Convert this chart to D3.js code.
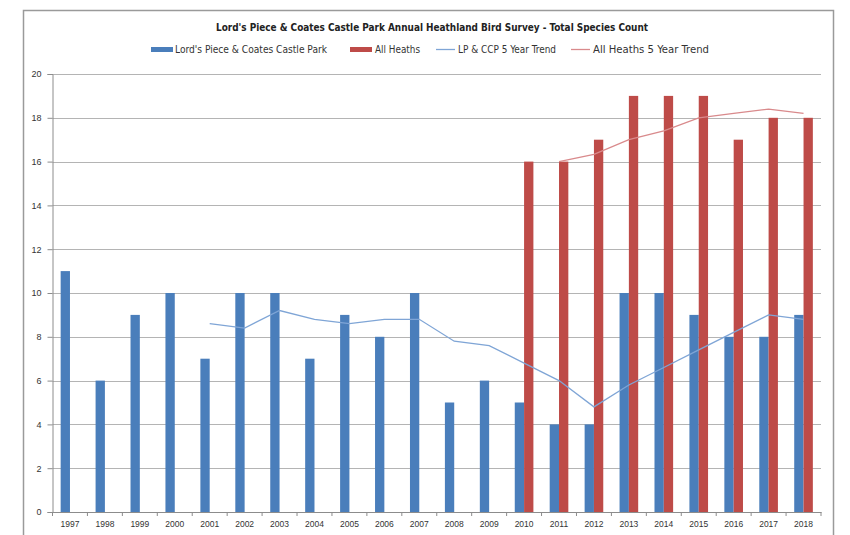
<!DOCTYPE html>
<html>
<head>
<meta charset="utf-8">
<script src="https://cdn.jsdelivr.net/npm/d3@7"></script>
<style>
  html, body { margin: 0; padding: 0; background: #fff; }
  svg { display: block; font-family: "Liberation Sans Narrow", "DejaVu Sans Condensed", "Liberation Sans", sans-serif; }
</style>
</head>
<body>
<svg id="chart" width="850" height="535"></svg>
<script>
// Survey years
const years = ["1997","1998","1999","2000","2001","2002","2003","2004","2005","2006","2007",
               "2008","2009","2010","2011","2012","2013","2014","2015","2016","2017","2018"];

// Total species count, Lord's Piece & Coates Castle Park
const lpccp = [11, 6, 9, 10, 7, 10, 10, 7, 9, 8, 10, 5, 6, 5, 4, 4, 10, 10, 9, 8, 8, 9];

// Total species count, all heaths (surveyed from 2010)
const heathYears = ["2010","2011","2012","2013","2014","2015","2016","2017","2018"];
const allHeaths = [16, 16, 17, 19, 19, 19, 17, 18, 18];

// 5 year trend lines
const lpccpTrendYears = ["2001","2002","2003","2004","2005","2006","2007","2008","2009",
                         "2010","2011","2012","2013","2014","2015","2016","2017","2018"];
const lpccpTrend = [8.6, 8.4, 9.2, 8.8, 8.6, 8.8, 8.8, 7.8, 7.6, 6.8, 6.0, 4.8, 5.8, 6.6, 7.4, 8.2, 9.0, 8.8];
const heathTrendYears = ["2011","2012","2013","2014","2015","2016","2017","2018"];
const heathTrend = [16.0, 16.33, 17.0, 17.4, 18.0, 18.2, 18.4, 18.2];

const yTicks = [0, 2, 4, 6, 8, 10, 12, 14, 16, 18, 20];

const titleText = "Lord's Piece & Coates Castle Park Annual Heathland Bird Survey - Total Species Count";
const seriesNames = ["Lord's Piece & Coates Castle Park", "All Heaths", "LP & CCP 5 Year Trend", "All Heaths 5 Year Trend"];

const BLUE = "#4a7ebb", RED = "#be4b48", BLUE_LINE = "#7fa5d6", RED_LINE = "#d98a8c";

const svg = d3.select("#chart");
const plot = { left: 52.5, right: 821, top: 74, bottom: 512 };

// Chart frame
svg.append("rect")
  .attr("x", 23.5).attr("y", 10.5).attr("width", 810).attr("height", 530)
  .attr("fill", "#fff").attr("stroke", "#9a9a9a").attr("stroke-width", 1.5);

const x = d3.scaleBand().domain(years).range([plot.left, plot.right]).paddingInner(0).paddingOuter(0);
const y = d3.scaleLinear().domain([0, 20]).range([plot.bottom, plot.top]);
const barW = x.bandwidth() / 3.75;

// Horizontal gridlines
svg.append("g").selectAll("line").data(yTicks.filter(d => d > 0)).join("line")
  .attr("x1", plot.left).attr("x2", plot.right)
  .attr("y1", d => Math.round(y(d)) + 0.5).attr("y2", d => Math.round(y(d)) + 0.5)
  .attr("stroke", "#b4b4b4").attr("stroke-width", 1);

// Y axis
const yAxis = svg.append("g")
  .attr("transform", `translate(${plot.left},0)`)
  .call(d3.axisLeft(y).tickValues(yTicks).tickSize(5).tickPadding(6).tickFormat(d3.format("d")));
yAxis.select(".domain").attr("stroke", "#8c8c8c");
yAxis.selectAll(".tick line").attr("stroke", "#8c8c8c");
yAxis.selectAll("text").attr("fill", "#333").style("font-size", "9px");

// X axis with tick marks between categories
const xAxis = svg.append("g")
  .attr("transform", `translate(0,${plot.bottom})`)
  .call(d3.axisBottom(x).tickSize(0).tickPadding(9));
xAxis.select(".domain").attr("stroke", "#8c8c8c");
xAxis.selectAll("text").attr("fill", "#333").style("font-size", "8.5px");
xAxis.append("g").selectAll("line").data(years.concat(["end"])).join("line")
  .attr("x1", (d, i) => plot.left + i * x.step()).attr("x2", (d, i) => plot.left + i * x.step())
  .attr("y1", 0).attr("y2", 4).attr("stroke", "#8c8c8c");

// Bars
svg.append("g").selectAll("rect").data(years.map((yr, i) => ({ yr, v: lpccp[i] }))).join("rect")
  .attr("x", d => x(d.yr) + x.bandwidth() / 2 - barW)
  .attr("width", barW)
  .attr("y", d => y(d.v)).attr("height", d => y(0) - y(d.v))
  .attr("fill", BLUE);

svg.append("g").selectAll("rect").data(heathYears.map((yr, i) => ({ yr, v: allHeaths[i] }))).join("rect")
  .attr("x", d => x(d.yr) + x.bandwidth() / 2)
  .attr("width", barW)
  .attr("y", d => y(d.v)).attr("height", d => y(0) - y(d.v))
  .attr("fill", RED);

// Trend lines
const line = d3.line().x(d => x(d.yr) + x.bandwidth() / 2).y(d => y(d.v));
svg.append("path")
  .datum(lpccpTrendYears.map((yr, i) => ({ yr, v: lpccpTrend[i] })))
  .attr("d", line).attr("fill", "none").attr("stroke", BLUE_LINE).attr("stroke-width", 1.3);
svg.append("path")
  .datum(heathTrendYears.map((yr, i) => ({ yr, v: heathTrend[i] })))
  .attr("d", line).attr("fill", "none").attr("stroke", RED_LINE).attr("stroke-width", 1.3);

// Title
svg.append("text")
  .attr("x", 432).attr("y", 31).attr("text-anchor", "middle")
  .attr("fill", "#222").style("font-size", "11px").style("font-weight", "bold")
  .attr("textLength", 432).attr("lengthAdjust", "spacingAndGlyphs")
  .text(titleText);

// Legend
const legendItems = [
  { kind: "rect", color: BLUE, sx: 151, sw: 22, tx: 175, tw: 152 },
  { kind: "rect", color: RED, sx: 350, sw: 22, tx: 375, tw: 45 },
  { kind: "line", color: BLUE_LINE, sx: 436, sw: 19, tx: 458, tw: 98 },
  { kind: "line", color: RED_LINE, sx: 571, sw: 19, tx: 593, tw: 116 }
];
const lg = svg.append("g");
legendItems.forEach((it, i) => {
  if (it.kind === "rect") {
    lg.append("rect").attr("x", it.sx).attr("y", 47).attr("width", it.sw).attr("height", 5).attr("fill", it.color);
  } else {
    lg.append("line").attr("x1", it.sx).attr("x2", it.sx + it.sw).attr("y1", 49.5).attr("y2", 49.5)
      .attr("stroke", it.color).attr("stroke-width", 1.3);
  }
  lg.append("text").attr("x", it.tx).attr("y", 53)
    .attr("fill", "#333").style("font-size", "10px")
    .attr("textLength", it.tw).attr("lengthAdjust", "spacingAndGlyphs")
    .text(seriesNames[i]);
});
</script>
</body>
</html>
